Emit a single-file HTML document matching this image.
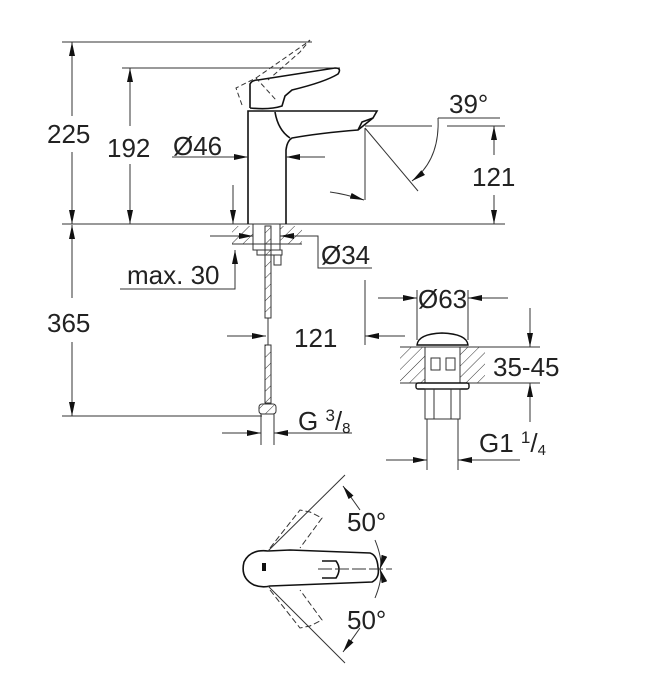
<!DOCTYPE html>
<html><head><meta charset="utf-8"><style>
html,body{margin:0;padding:0;background:#fff}
svg{display:block}
text{font-family:"Liberation Sans",sans-serif;fill:#222}
</style></head><body>
<svg width="653" height="700" viewBox="0 0 653 700" xmlns="http://www.w3.org/2000/svg">
<defs>
<marker id="b" viewBox="0 0 14 6" refX="14" refY="3" markerWidth="14" markerHeight="6" markerUnits="userSpaceOnUse" orient="auto"><path d="M0,0L14,3L0,6z" fill="#111"/></marker>
<pattern id="h" width="8" height="8" patternUnits="userSpaceOnUse" patternTransform="rotate(45)"><line x1="0" y1="0" x2="0" y2="8" stroke="#333" stroke-width="1"/></pattern>
</defs>
<g stroke="#333" stroke-width="1" fill="none">
<line x1="62" y1="42" x2="312" y2="42"/>
<line x1="122" y1="68" x2="340" y2="68"/>
<line x1="62" y1="224" x2="505" y2="224"/>
<line x1="62" y1="416" x2="262" y2="416"/>
<line x1="72" y1="116" x2="72" y2="42" marker-end="url(#b)"/>
<line x1="72" y1="152" x2="72" y2="224" marker-end="url(#b)"/>
<line x1="72" y1="298" x2="72" y2="225" marker-end="url(#b)"/>
<line x1="72" y1="342" x2="72" y2="416" marker-end="url(#b)"/>
<line x1="130" y1="126" x2="130" y2="68" marker-end="url(#b)"/>
<line x1="130" y1="164" x2="130" y2="224" marker-end="url(#b)"/>
<g stroke="#111" stroke-width="1.6">
<path d="M248,224 V111 H377 L373,118 L358,130 Q320,133 292,138 Q287,141 286,150 V224"/>
<path d="M275,112 Q278,130 290,138"/>
<path d="M358,130 L362,122 L373,118"/>
<path d="M250,108 V84 Q252,80 258,80 L335,68 Q342,68 338,74 Q325,82 292,90 L285,96 L282,106 Q270,110 250,108"/>
</g>
<g stroke-dasharray="5,3">
<path d="M242,105 L236,88 L256,78 L276,100"/>
<path d="M256,78 L305,44 L310,40 L300,52 L268,80"/>
</g>
<line x1="172" y1="157" x2="248" y2="157" marker-end="url(#b)"/>
<line x1="325" y1="157" x2="286" y2="157" marker-end="url(#b)"/>
<line x1="233" y1="185" x2="233" y2="224" marker-end="url(#b)"/>
<line x1="365" y1="126" x2="432" y2="126"/>
<line x1="447" y1="126" x2="505" y2="126"/>
<line x1="438" y1="118" x2="500" y2="118"/>
<line x1="365" y1="128" x2="365" y2="200"/>
<line x1="365" y1="128" x2="418" y2="191"/>
<path d="M438,118 Q440,160 412,181" marker-end="url(#b)"/>
<path d="M330,192 Q345,194 364,200" marker-end="url(#b)"/>
<line x1="494" y1="155" x2="494" y2="126" marker-end="url(#b)"/>
<line x1="494" y1="195" x2="494" y2="224" marker-end="url(#b)"/>
<rect x="232" y="226" width="21" height="18" fill="url(#h)" stroke="none"/>
<rect x="280" y="226" width="22" height="18" fill="url(#h)" stroke="none"/>
<line x1="232" y1="244" x2="302" y2="244"/>
<rect x="253" y="224" width="27" height="26"/>
<rect x="257" y="250" width="25" height="5"/>
<rect x="274" y="255" width="7" height="10"/>
<rect x="265" y="226" width="6" height="92" fill="url(#h)"/>
<rect x="265" y="345" width="6" height="58" fill="url(#h)"/>
<line x1="268" y1="318" x2="268" y2="345"/>
<rect x="259" y="404" width="17" height="10" rx="3" fill="url(#h)"/>
<line x1="261" y1="414" x2="261" y2="445"/>
<line x1="274" y1="414" x2="274" y2="445"/>
<line x1="210" y1="236" x2="253" y2="236" marker-end="url(#b)"/>
<path d="M300,236 H318 V268 H372"/>
<line x1="300" y1="236" x2="280" y2="236" marker-end="url(#b)"/>
<path d="M120,289 H235 V250" marker-end="url(#b)"/>
<line x1="227" y1="336" x2="266" y2="336" marker-end="url(#b)"/>
<line x1="365" y1="280" x2="365" y2="345"/>
<line x1="405" y1="336" x2="365" y2="336" marker-end="url(#b)"/>
<line x1="222" y1="433" x2="261" y2="433" marker-end="url(#b)"/>
<line x1="352" y1="433" x2="274" y2="433" marker-end="url(#b)"/>
<line x1="417" y1="290" x2="417" y2="340"/>
<line x1="468" y1="290" x2="468" y2="340"/>
<line x1="378" y1="298" x2="417" y2="298" marker-end="url(#b)"/>
<line x1="508" y1="298" x2="468" y2="298" marker-end="url(#b)"/>
<path d="M417,345 Q418,334 442,333 Q467,334 468,345 Z" stroke="#111" stroke-width="1.4"/>
<rect x="400" y="347" width="25" height="36" fill="url(#h)" stroke="none"/>
<rect x="460" y="347" width="25" height="36" fill="url(#h)" stroke="none"/>
<line x1="400" y1="347" x2="540" y2="347"/>
<line x1="400" y1="383" x2="540" y2="383"/>
<rect x="425" y="347" width="35" height="36"/>
<rect x="431" y="358" width="9" height="12"/><rect x="446" y="358" width="9" height="12"/>
<rect x="416" y="383" width="53" height="6" rx="2" stroke="#111" stroke-width="1.4"/>
<rect x="425" y="389" width="35" height="30"/>
<line x1="434" y1="389" x2="434" y2="419"/><line x1="451" y1="389" x2="451" y2="419"/>
<line x1="427" y1="419" x2="427" y2="470"/><line x1="458" y1="419" x2="458" y2="470"/>
<line x1="530" y1="308" x2="530" y2="347" marker-end="url(#b)"/>
<line x1="530" y1="422" x2="530" y2="383" marker-end="url(#b)"/>
<line x1="386" y1="460" x2="427" y2="460" marker-end="url(#b)"/>
<line x1="520" y1="460" x2="458" y2="460" marker-end="url(#b)"/>
<g stroke="#111" stroke-width="1.6">
<path d="M268,551 Q250,549 244,562 Q240,578 254,585 Q262,588 270,586 L372,582 Q380,578 378,567 Q377,555 370,553 L290,550 Z"/>
<path d="M322,561 H336 Q342,569 336,578 H322"/>
</g>
<rect x="262" y="563" width="4" height="8" fill="#111" stroke="none"/>
<line x1="318" y1="569" x2="392" y2="569" stroke-dasharray="14,3"/>
<line x1="268" y1="551" x2="345" y2="475"/>
<line x1="268" y1="586" x2="345" y2="663"/>
<g stroke-dasharray="6,3">
<path d="M270,548 L300,510 L310,512 L322,518 L300,548"/>
<path d="M270,590 L300,628 L310,626 L322,620 L300,590"/>
</g>
<line x1="360" y1="510" x2="343" y2="486" marker-end="url(#b)"/>
<line x1="360" y1="628" x2="343" y2="652" marker-end="url(#b)"/>
<path d="M375,540 Q383,560 380,569" marker-end="url(#b)"/>
<path d="M375,598 Q383,578 380,569" marker-end="url(#b)"/>
</g>
<g font-size="26">
<text x="47" y="143">225</text>
<text x="47" y="332">365</text>
<text x="107" y="157">192</text>
<text x="173" y="155">Ø46</text>
<text x="449" y="113">39°</text>
<rect x="478" y="164" width="32" height="24" fill="#fff"/>
<text x="472" y="186">121</text>
<text x="321" y="264">Ø34</text>
<text x="127" y="284">max. 30</text>
<text x="294" y="347">121</text>
<text x="298" y="430">G <tspan font-size="17" dy="-9">3</tspan><tspan dy="9">/</tspan><tspan font-size="15" dy="3">8</tspan></text>
<text x="418" y="308">Ø63</text>
<text x="493" y="376">35-45</text>
<text x="479" y="452">G1 <tspan font-size="17" dy="-9">1</tspan><tspan dy="9">/</tspan><tspan font-size="15" dy="3">4</tspan></text>
<text x="347" y="531">50°</text>
<text x="347" y="629">50°</text>
</g>
</svg>
</body></html>
